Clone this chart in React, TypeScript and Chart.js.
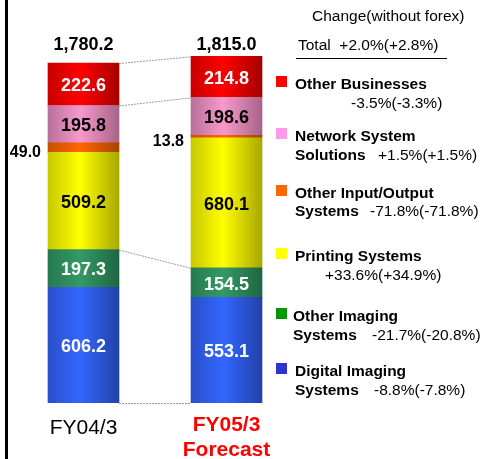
import React, { useEffect, useRef } from 'react';
import { Chart, registerables } from 'chart.js';

Chart.register(...registerables);

// ---- data ----
const categories: string[][] = [['FY04/3'], ['FY05/3', 'Forecast']];
const digitalImaging = [606.2, 553.1];
const otherImaging = [197.3, 154.5];
const printing = [509.2, 680.1];
const otherIO = [49.0, 13.8];
const network = [195.8, 198.6];
const otherBusinesses = [222.6, 214.8];
const totals = ['1,780.2', '1,815.0'];

const seriesNames = [
  'Digital Imaging Systems',
  'Other Imaging Systems',
  'Printing Systems',
  'Other Input/Output Systems',
  'Network System Solutions',
  'Other Businesses',
];

const changeTitle = 'Change(without forex)';
const totalChange = 'Total  +2.0%(+2.8%)';
// legend (top to bottom)
const legendLine1 = ['Other Businesses', 'Network System', 'Other Input/Output', 'Printing Systems', 'Other Imaging', 'Digital Imaging'];
const legendLine2 = ['', 'Solutions', 'Systems', '', 'Systems', 'Systems'];
const legendChange = ['-3.5%(-3.3%)', '+1.5%(+1.5%)', '-71.8%(-71.8%)', '+33.6%(+34.9%)', '-21.7%(-20.8%)', '-8.8%(-7.8%)'];

// ---- styles ----
const FONT = '"Liberation Sans", Arial, Helvetica, sans-serif';
const BAR_W = 71;
const legendColors = ['#ff0000', '#ff99ee', '#ff6600', '#ffff00', '#009900', '#3333cc'];
// [left edge, center, right edge] per dataset (bottom to top)
const barShades: string[][] = [
  ['#2a4fc8', '#3366ff', '#2242a8'],
  ['#267a50', '#349966', '#1f6642'],
  ['#c8c800', '#ffff00', '#a8a800'],
  ['#c85000', '#ff6600', '#a84400'],
  ['#b8709a', '#f799cc', '#a86488'],
  ['#c80000', '#ff0000', '#a80000'],
];
const labelColors = ['#ffffff', '#ffffff', '#000000', '#000000', '#000000', '#ffffff'];
const legendY = [84, 136, 193, 256, 316, 371];
const legendLeft = [295, 295, 295, 295, 293, 295];
const line2Y = [103, 155, 211, 275, 335, 390];
const changeLeft = [351, 378, 370, 325, 372, 374];

const gradientPlugin = {
  id: 'barGradient',
  beforeDatasetsDraw(chart: any) {
    const c = chart.ctx;
    chart.data.datasets.forEach((_ds: any, di: number) => {
      const shades = barShades[di];
      chart.getDatasetMeta(di).data.forEach((el: any) => {
        if (!isFinite(el.x) || !isFinite(el.width)) return;
        const g = c.createLinearGradient(el.x - el.width / 2, 0, el.x + el.width / 2, 0);
        g.addColorStop(0, shades[0]);
        g.addColorStop(0.45, shades[1]);
        g.addColorStop(1, shades[2]);
        el.options = { ...el.options, backgroundColor: g };
      });
    });
  },
};

const overlayPlugin = {
  id: 'overlay',
  afterDatasetsDraw(chart: any) {
    const c = chart.ctx;
    const xs = chart.scales.x;
    const ys = chart.scales.y;
    const area = chart.chartArea;
    const n = chart.data.datasets.length;
    c.save();
    // dotted connectors
    const cum = (i: number, upto: number) => {
      let s = 0;
      for (let d = 0; d <= upto; d++) s += chart.data.datasets[d].data[i];
      return s;
    };
    const levels = [-1, 1, 4, n - 1];
    c.strokeStyle = '#9a9a9a';
    c.lineWidth = 1;
    c.setLineDash([2, 1]);
    const x0 = xs.getPixelForValue(0) + BAR_W / 2;
    const x1 = xs.getPixelForValue(1) - BAR_W / 2;
    levels.forEach((lv) => {
      const a = lv < 0 ? 0 : cum(0, lv);
      const b = lv < 0 ? 0 : cum(1, lv);
      c.beginPath();
      c.moveTo(x0, ys.getPixelForValue(a) + 0.5);
      c.lineTo(x1, ys.getPixelForValue(b) + 0.5);
      c.stroke();
    });
    c.setLineDash([]);
    // segment labels
    chart.data.datasets.forEach((ds: any, di: number) => {
      const meta = chart.getDatasetMeta(di);
      meta.data.forEach((el: any, i: number) => {
        const v = ds.data[i];
        const txt = v.toFixed(1);
        if (v < 60) {
          c.font = `bold 16px ${FONT}`;
          c.fillStyle = '#000';
          c.textAlign = 'right';
          c.textBaseline = 'middle';
          c.fillText(txt, el.x - BAR_W / 2 - 7, (el.y + el.base) / 2 + 5);
        } else {
          c.font = `bold 18px ${FONT}`;
          c.fillStyle = labelColors[di];
          c.textAlign = 'center';
          c.textBaseline = 'middle';
          c.fillText(txt, el.x, (el.y + el.base) / 2 + 2);
        }
      });
    });
    // totals
    c.font = `bold 18px ${FONT}`;
    c.fillStyle = '#000';
    c.textAlign = 'center';
    c.textBaseline = 'middle';
    totals.forEach((t, i) => c.fillText(t, xs.getPixelForValue(i), area.top + 24));
    // category labels
    categories.forEach((lines, i) => {
      const forecast = lines.length > 1;
      c.font = `${forecast ? 'bold ' : ''}21px ${FONT}`;
      c.fillStyle = forecast ? '#ff0000' : '#000';
      lines.forEach((ln, k) => {
        c.fillText(ln, xs.getPixelForValue(i), area.bottom + (forecast ? 22 : 25) + k * 25);
      });
    });
    c.restore();
  },
};

function ChartCanvas() {
  const ref = useRef<HTMLCanvasElement | null>(null);
  useEffect(() => {
    if (!ref.current) return;
    const series = [digitalImaging, otherImaging, printing, otherIO, network, otherBusinesses];
    const chart = new Chart(ref.current, {
      type: 'bar',
      data: {
        labels: categories.map((l) => l.join(' ')),
        datasets: series.map((d, i) => ({
          label: seriesNames[i],
          data: d,
          backgroundColor: barShades[i][1],
          borderWidth: 0,
          barThickness: BAR_W,
        })),
      },
      options: {
        responsive: false,
        animation: false,
        layout: { padding: { left: 12, right: 188, top: 21, bottom: 56 } },
        plugins: { legend: { display: false }, tooltip: { enabled: false } },
        scales: {
          x: { stacked: true, display: false },
          y: { stacked: true, display: false, min: 0, max: 2000 },
        },
      },
      plugins: [gradientPlugin, overlayPlugin],
    });
    return () => chart.destroy();
  }, []);
  return <canvas ref={ref} width={486} height={459} style={{ position: 'absolute', left: 0, top: 0 }} />;
}

const T = (props: { left: number; cy: number; bold?: boolean; children: React.ReactNode; size?: number }) => (
  <div
    style={{
      position: 'absolute',
      left: props.left,
      top: props.cy - 10,
      height: 20,
      lineHeight: '20px',
      fontSize: props.size ?? 15.5,
      fontWeight: props.bold ? 'bold' : 'normal',
      whiteSpace: 'pre',
      color: '#000',
    }}
  >
    {props.children}
  </div>
);

export default function App() {
  return (
    <div
      style={{
        position: 'fixed',
        left: 0,
        top: 0,
        width: 486,
        height: 459,
        background: '#fff',
        overflow: 'hidden',
        fontFamily: FONT,
      }}
    >
      <ChartCanvas />
      <div style={{ position: 'absolute', left: 5, top: 0, width: 3, height: 459, background: '#000' }} />
      <T left={312} cy={16}>{changeTitle}</T>
      <T left={298} cy={45}>{totalChange}</T>
      <div style={{ position: 'absolute', left: 296, top: 58, width: 151, height: 1, background: '#000' }} />
      {legendLine1.map((l1, i) => (
        <React.Fragment key={i}>
          <div
            style={{
              position: 'absolute',
              left: 276,
              top: legendY[i] - 8,
              width: 11,
              height: 11,
              background: legendColors[i],
            }}
          />
          <T left={legendLeft[i]} cy={legendY[i]} bold>
            {l1}
          </T>
          {legendLine2[i] ? (
            <T left={legendLeft[i]} cy={line2Y[i]} bold>
              {legendLine2[i]}
            </T>
          ) : null}
          <T left={changeLeft[i]} cy={line2Y[i]}>
            {legendChange[i]}
          </T>
        </React.Fragment>
      ))}
    </div>
  );
}
